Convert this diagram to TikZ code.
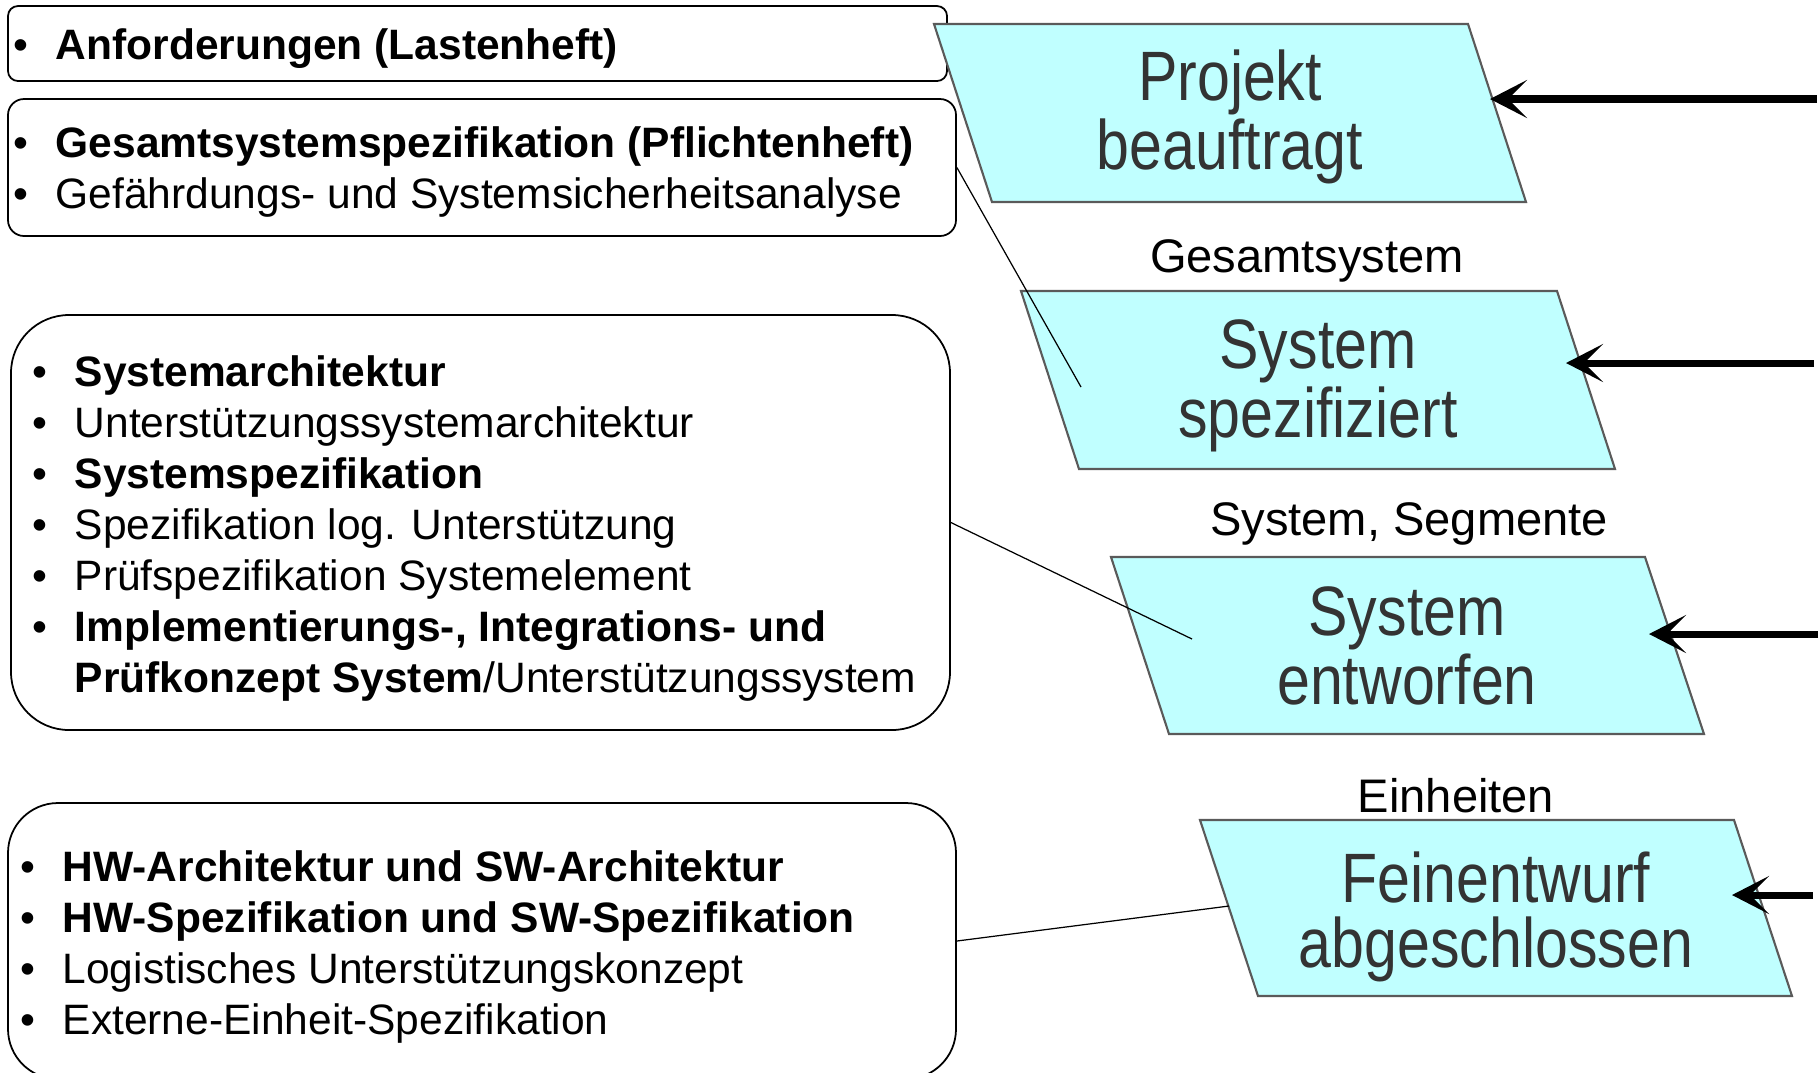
\documentclass[tikz,border=0pt]{standalone}
\usepackage{fontspec}
\setmainfont{Liberation Sans}
\newfontfamily\stepfont[FakeStretch=0.845]{Liberation Sans}
\usepackage{tikz}
\usetikzlibrary{arrows.meta}
\usetikzlibrary{fit, calc}
\definecolor{stepcyan}{HTML}{C0FFFF}
\definecolor{stepgray}{HTML}{5A5A5A}
\definecolor{stepink}{HTML}{333333}
\newcommand{\bul}{\makebox[4.2mm][l]{\textbullet}}

\begin{document}
\begin{tikzpicture}[x=0.1mm, y=-0.1mm,
    infobox/.style={draw, rounded corners=#1, inner sep=0pt, line width=0.5pt},
    listtext/.style={anchor=base west, align=left, inner sep=0pt, font=\fontsize{12.1}{14.5}\selectfont},
    stepfill/.style={fill=stepcyan, draw=stepgray, line width=0.6pt},
    steptext/.style={align=center, inner sep=0pt, text=stepink, font=\stepfont\fontsize{19.9}{18.5}\selectfont},
    stagelabel/.style={anchor=base, inner sep=0pt, font=\fontsize{13.4}{16}\selectfont},
    feed/.style={line width=2pt, -{Stealth[length=3.7mm, width=3.8mm, inset=1.9mm]}},
    link/.style={line width=0.35pt}]
          \useasboundingbox (0,0) rectangle (1820,1072);

          % left boxes
          \node [infobox=1.0mm, fit={(8,6) (947,81)}] (anf) {};
          \node [infobox=1.6mm, fit={(8,99) (956,236)}] (pflicht) {};
          \node [infobox=5.8mm, fit={(11,315) (950,730)}] (sysarch) {};
          \node [infobox=5.0mm, fit={(8,803) (956,1079)}] (hwsw) {};

          % texts sit on the baseline of their last line
          \node [listtext] (anf-txt) at (13,59) {\bul\textbf{Anforderungen (Lastenheft)}};
          \node [listtext] (pflicht-txt) at (13,208) {\bul\textbf{Gesamtsystemspezifikation (Pflichtenheft)}\\
            \bul Gefährdungs- und Systemsicherheitsanalyse};
          \node [listtext] (sysarch-txt) at (32,692) {\bul\textbf{Systemarchitektur}\\
            \bul Unterstützungssystemarchitektur\\
            \bul\textbf{Systemspezifikation}\\
            \bul Spezifikation log. Unterstützung\\
            \bul Prüfspezifikation Systemelement\\
            \bul\textbf{Implementierungs-, Integrations- und}\\
            \hspace*{4.2mm}\textbf{Prüfkonzept System}/Unterstützungssystem};
          \node [listtext] (hwsw-txt) at (20,1034) {\bul\textbf{HW-Architektur und SW-Architektur}\\
            \bul\textbf{HW-Spezifikation und SW-Spezifikation}\\
            \bul Logistisches Unterstützungskonzept\\
            \bul Externe-Einheit-Spezifikation};

          % stages
          \draw [stepfill] (934,24) -- (1468,24) -- (1526,202) -- (992,202) -- cycle; % Draws a parallelogram
          \draw [stepfill] (1021,291) -- (1557,291) -- (1615,469) -- (1079,469) -- cycle; % Draws a parallelogram
          \draw [stepfill] (1111,557) -- (1645,557) -- (1704,734) -- (1169,734) -- cycle; % Draws a parallelogram
          \draw [stepfill] (1200,820) -- (1734,820) -- (1792,996) -- (1258,996) -- cycle; % Draws a parallelogram

          \node [steptext] (proj) at (1230,117) {Projekt\\beauftragt};
          \node [steptext] (spez) at (1318,386) {System\\spezifiziert};
          \node [steptext] (entw) at (1407,646) {System\\entworfen};
          \node [steptext] (fein) at (1496,917) {Feinentwurf\\abgeschlossen};

          \node [stagelabel] (gesamt) at (1307,272) {Gesamtsystem};
          \node [stagelabel] (segm) at (1409,535) {System, Segmente};
          \node [stagelabel] (einh) at (1456,812) {Einheiten};

          % incoming arrows
          \coordinate (proj-in) at (1817,99);
          \coordinate (proj-tip) at (1490,99);
          \coordinate (spez-in) at (1814,363);
          \coordinate (spez-tip) at (1566,363);
          \coordinate (entw-in) at (1818,634);
          \coordinate (entw-tip) at (1649,634);
          \coordinate (fein-in) at (1813,895);
          \coordinate (fein-tip) at (1732,895);

          \draw [feed] (proj-in) -- (proj-tip);
          \draw [feed] (spez-in) -- (spez-tip);
          \draw [feed] (entw-in) -- (entw-tip);
          \draw [feed] (fein-in) -- (fein-tip);

          % links from the boxes
          \coordinate (spez-end) at (1081,387);
          \coordinate (entw-end) at (1192,639);
          \coordinate (fein-end) at (1229,906);

          \draw [link] (pflicht.east) -- (spez-end);
          \draw [link] (sysarch.east) -- (entw-end);
          \draw [link] (hwsw.east) -- (fein-end);
        \end{tikzpicture}
\end{document}
